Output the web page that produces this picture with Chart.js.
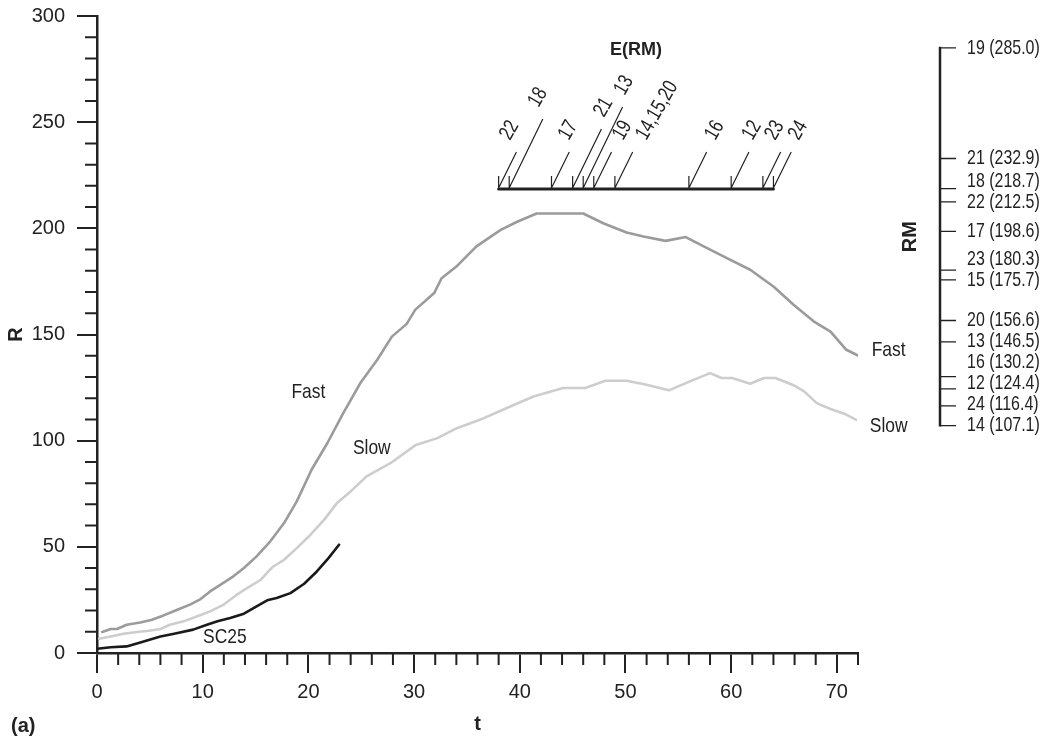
<!DOCTYPE html>
<html lang="en">
<head>
<meta charset="UTF-8">
<title>R against t</title>
<script src="https://cdn.jsdelivr.net/npm/chart.js"></script>
<style>
  body { margin: 0; background: #fff; }
  #chart { display: block; }
</style>
</head>
<body>
<canvas id="chart" width="1053" height="738"></canvas>
<script>
// Fast rising curve
const fastT = [0.5, 1.3, 1.9, 2.8, 4.1, 5.2, 6.3, 7.6, 8.8, 9.8, 10.7, 11.7, 12.9, 13.9, 15.1, 16.4, 17.7, 18.9, 20.3, 21.8,
  23.3, 24.9, 26.5, 27.9, 29.3, 30.1, 31.9, 32.6, 34.0, 35.9, 38.2, 39.7, 41.6, 46.0, 47.9, 50.1, 51.7, 53.8, 55.7, 57.4,
  59.6, 61.8, 64.0, 65.9, 67.8, 69.4, 70.9, 72.0];
const fastR = [9.9, 11.3, 11.3, 13.3, 14.4, 15.7, 17.7, 20.4, 22.8, 25.4, 29.0, 32.2, 36.1, 40.0, 45.5, 52.6, 61.2, 71.4, 86.3, 98.9,
  113.0, 127.0, 138.0, 149.0, 155.0, 161.6, 169.5, 176.5, 182.0, 191.5, 199.3, 203.0, 207.0, 207.0, 202.4, 198.0, 196.2, 194.1, 195.9, 191.5,
  186.0, 180.5, 172.6, 164.0, 156.2, 151.4, 142.8, 140.1];

// Slow rising curve
const slowT = [0.2, 1.3, 2.5, 3.8, 4.9, 6.0, 6.9, 8.2, 9.5, 10.7, 12.0, 13.1, 14.2, 15.5, 16.6, 17.7, 18.9, 20.2, 21.5, 22.7,
  24.0, 25.5, 27.8, 30.1, 32.2, 34.1, 36.6, 39.1, 41.3, 44.1, 46.2, 48.1, 50.1, 52.0, 54.1, 56.1, 58.0, 59.1, 60.1, 61.8,
  63.1, 64.2, 65.9, 66.9, 68.1, 69.4, 70.7, 71.8];
const slowR = [6.7, 7.8, 9.1, 9.9, 10.5, 11.3, 13.3, 14.9, 17.3, 19.6, 22.8, 27.0, 30.6, 34.5, 40.5, 43.9, 49.4, 55.7, 62.8, 70.6,
  76.1, 83.2, 89.5, 97.8, 101.2, 106.0, 110.6, 116.1, 120.8, 124.8, 124.8, 128.2, 128.2, 126.3, 123.7, 127.9, 131.8, 129.5, 129.5, 126.8,
  129.5, 129.5, 126.1, 123.2, 117.7, 114.9, 112.7, 109.9];

// Cycle 25 so far
const sc25T = [0, 1.3, 2.8, 4.1, 6.0, 7.3, 9.1, 10.4, 11.4, 12.6, 13.9, 15.1, 16.1, 17.0, 18.3, 19.6, 20.8, 21.9, 22.9];
const sc25R = [2.0, 2.7, 3.1, 5.0, 7.8, 9.1, 11.0, 13.3, 14.9, 16.5, 18.5, 22.0, 24.8, 25.9, 28.2, 32.6, 38.4, 44.7, 51.0];

// Cycle maxima RM
const rmCycles = ['19', '21', '18', '22', '17', '23', '15', '20', '13', '16', '12', '24', '14'];
const rmValues = [285.0, 232.9, 218.7, 212.5, 198.6, 180.3, 175.7, 156.6, 146.5, 130.2, 124.4, 116.4, 107.1];

// Epoch of maximum E(RM), in t
const eLabels = ['22', '18', '17', '21', '13', '19', '14,15,20', '16', '12', '23', '24'];
const eTimes = [38, 39, 43, 45, 46, 47, 49, 56, 60, 63, 64];
const eLevel = 218.5;

// labelled axis ticks
const tTicks = [0, 10, 20, 30, 40, 50, 60, 70];
const rTicks = [0, 50, 100, 150, 200, 250, 300];

const FONT = '"Liberation Sans", Arial, sans-serif';
const INK = '#222';

// leader rise and label shift (px) for the E(RM) labels
const leaderStyle = {
  '22': [37, 0], '18': [70, 18], '17': [37, 6], '21': [60, 20], '13': [82, 30], '19': [37, 18],
  '14,15,20': [37, 20], '16': [37, 15], '12': [37, 10], '23': [37, 1], '24': [37, 14]
};

// curve names, placed in data units
const curveNames = [
  { text: 'Fast', t: 20.0, r: 122.8 },
  { text: 'Slow', t: 26.0, r: 96.5 },
  { text: 'Fast', t: 74.9, r: 142.8 },
  { text: 'Slow', t: 74.9, r: 106.7 },
  { text: 'SC25', t: 12.1, r: 7.4 }
];

function pts(ts, rs) {
  return ts.map((t, i) => ({ x: t, y: rs[i] }));
}

// text squeezed horizontally, to get a narrow face
function narrowText(ctx, text, px, py, sx, angle) {
  ctx.save();
  ctx.translate(px, py);
  if (angle) ctx.rotate(angle);
  ctx.scale(sx, 1);
  ctx.fillText(text, 0, 0);
  ctx.restore();
}

const extras = {
  id: 'extras',
  afterDraw(chart) {
    const { ctx, chartArea: a } = chart;
    const x = chart.scales.x, y = chart.scales.y;
    ctx.save();
    ctx.strokeStyle = INK;
    ctx.fillStyle = INK;

    // minor ticks
    ctx.lineWidth = 2;
    ctx.beginPath();
    for (let v = 10; v < 300; v += 10) {
      if (v % 50 === 0) continue;
      const py = y.getPixelForValue(v);
      ctx.moveTo(a.left - 12, py);
      ctx.lineTo(a.left, py);
    }
    for (let v = 2; v <= 72; v += 2) {
      if (v % 10 === 0) continue;
      const px = x.getPixelForValue(v);
      ctx.moveTo(px, a.bottom);
      ctx.lineTo(px, a.bottom + 12);
    }
    ctx.stroke();

    // RM scale on the right
    const ax = a.right + 82;
    const ys = rmValues.map(v => y.getPixelForValue(v));
    ctx.lineWidth = 2.5;
    ctx.beginPath();
    ctx.moveTo(ax, Math.min(...ys) - 1);
    ctx.lineTo(ax, Math.max(...ys) + 1);
    ctx.stroke();
    ctx.lineWidth = 1.3;
    ctx.beginPath();
    ys.forEach(py => { ctx.moveTo(ax, py); ctx.lineTo(ax + 16, py); });
    ctx.stroke();

    ctx.font = '21px ' + FONT;
    ctx.textAlign = 'left';
    ctx.textBaseline = 'middle';
    const order = ys.map((py, i) => i).sort((i, j) => ys[j] - ys[i]);
    let prev = Infinity;
    order.forEach(i => {
      const ly = Math.min(ys[i], prev - 21);
      prev = ly;
      narrowText(ctx, rmCycles[i] + ' (' + rmValues[i].toFixed(1) + ')', ax + 27, ly, 0.76);
    });

    ctx.save();
    ctx.font = 'bold 20px ' + FONT;
    ctx.textAlign = 'center';
    ctx.translate(ax - 30, (Math.min(...ys) + Math.max(...ys)) / 2);
    ctx.rotate(-Math.PI / 2);
    ctx.fillText('RM', 0, 0);
    ctx.restore();

    // E(RM) leaders and labels
    const by = y.getPixelForValue(eLevel);
    ctx.lineWidth = 1.2;
    ctx.font = '21px ' + FONT;
    ctx.textBaseline = 'alphabetic';
    ctx.textAlign = 'left';
    eTimes.forEach((t, i) => {
      const px = x.getPixelForValue(t);
      const [rise, shift] = leaderStyle[eLabels[i]];
      ctx.beginPath();
      ctx.moveTo(px, by - 1);
      ctx.lineTo(px, by - 13);
      ctx.moveTo(px, by - 1);
      ctx.lineTo(px + rise * 0.48, by - rise);
      ctx.stroke();
      narrowText(ctx, eLabels[i], px + shift + 11.3, by - rise - 11, 0.78, -Math.PI / 3);
    });
    ctx.font = 'bold 18px ' + FONT;
    ctx.textAlign = 'center';
    ctx.textBaseline = 'middle';
    const x0 = x.getPixelForValue(Math.min(...eTimes));
    const x1 = x.getPixelForValue(Math.max(...eTimes));
    ctx.fillText('E(RM)', (x0 + x1) / 2, 50);

    // curve names
    ctx.font = '21px ' + FONT;
    curveNames.forEach(c => {
      narrowText(ctx, c.text, x.getPixelForValue(c.t), y.getPixelForValue(c.r), 0.83);
    });

    // panel letter
    ctx.font = 'bold 20px ' + FONT;
    ctx.textAlign = 'left';
    ctx.textBaseline = 'alphabetic';
    ctx.fillText('(a)', 11, 732);
    ctx.restore();
  }
};

new Chart(document.getElementById('chart'), {
  type: 'line',
  data: {
    datasets: [
      {
        label: 'E(RM)',
        data: [{ x: Math.min(...eTimes), y: eLevel }, { x: Math.max(...eTimes), y: eLevel }],
        borderColor: INK, borderWidth: 3
      },
      { label: 'SC25', data: pts(sc25T, sc25R), borderColor: '#1a1a1a', borderWidth: 2.6 },
      { label: 'Fast', data: pts(fastT, fastR), borderColor: '#9b9b9b', borderWidth: 2.6 },
      { label: 'Slow', data: pts(slowT, slowR), borderColor: '#cdcdcd', borderWidth: 2.6 }
    ]
  },
  options: {
    responsive: false,
    animation: false,
    elements: { point: { radius: 0 }, line: { tension: 0, borderCapStyle: 'round', borderJoinStyle: 'round' } },
    layout: { padding: { top: 16, right: 195, bottom: 0, left: 0 } },
    plugins: { legend: { display: false }, tooltip: { enabled: false } },
    scales: {
      x: {
        type: 'linear', position: 'bottom', min: 0, max: 72,
        afterBuildTicks: s => { s.ticks = tTicks.map(v => ({ value: v })); },
        afterFit: s => { s.height = 85; },
        ticks: { autoSkip: false, maxRotation: 0, padding: 7, color: INK, font: { family: FONT, size: 20 } },
        grid: { drawOnChartArea: false, drawTicks: true, tickLength: 20, color: INK, lineWidth: 2 },
        border: { display: true, color: INK, width: 2.5 },
        title: { display: true, text: 't', color: INK, padding: 2, font: { family: FONT, size: 20, weight: 'bold' } }
      },
      y: {
        type: 'linear', position: 'left', min: 0, max: 300,
        afterBuildTicks: s => { s.ticks = rTicks.map(v => ({ value: v })); },
        afterFit: s => { s.width = 97; s.paddingTop = 0; s.paddingBottom = 0; },
        ticks: { padding: 12, color: INK, font: { family: FONT, size: 20 } },
        grid: { drawOnChartArea: false, drawTicks: true, tickLength: 20, color: INK, lineWidth: 2 },
        border: { display: true, color: INK, width: 2.5 },
        title: { display: true, text: 'R', color: INK, padding: 4, font: { family: FONT, size: 20, weight: 'bold' } }
      }
    }
  },
  plugins: [extras]
});
</script>
</body>
</html>
